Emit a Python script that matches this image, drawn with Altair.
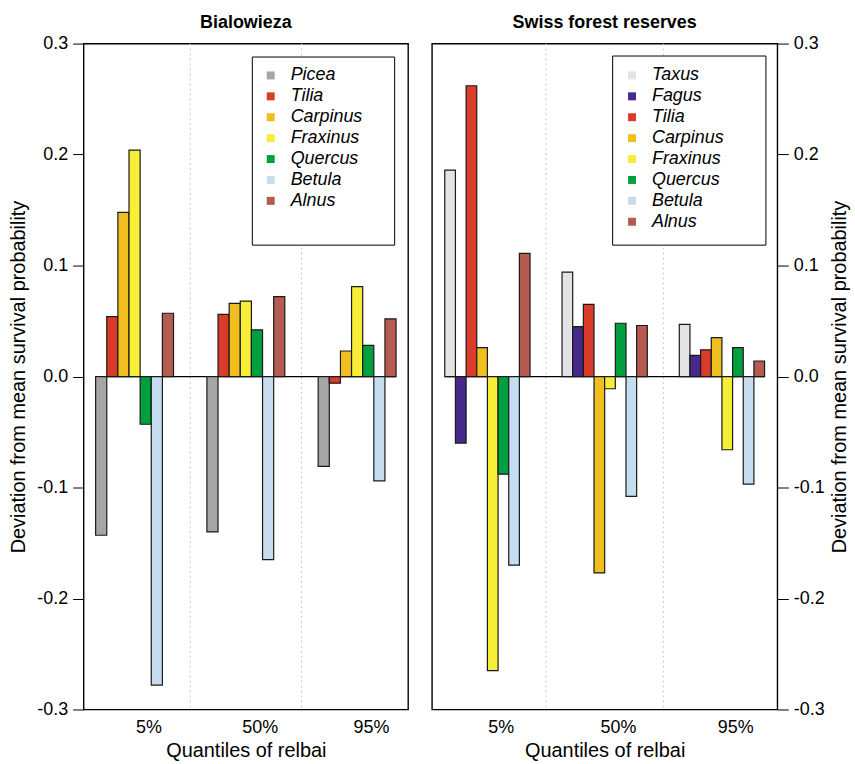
import altair as alt
import pandas as pd

# ---------------- data ----------------
groups = ["5%", "50%", "95%"]

bial_species = ["Picea", "Tilia", "Carpinus", "Fraxinus", "Quercus", "Betula", "Alnus"]
bial_q05 = [-0.143, 0.054, 0.148, 0.204, -0.043, -0.278, 0.057]
bial_q50 = [-0.140, 0.056, 0.066, 0.068, 0.042, -0.165, 0.072]
bial_q95 = [-0.081, -0.006, 0.023, 0.081, 0.028, -0.094, 0.052]

swiss_species = ["Taxus", "Fagus", "Tilia", "Carpinus", "Fraxinus", "Quercus", "Betula", "Alnus"]
swiss_q05 = [0.186, -0.060, 0.262, 0.026, -0.265, -0.088, -0.170, 0.111]
swiss_q50 = [0.094, 0.045, 0.065, -0.177, -0.011, 0.048, -0.108, 0.046]
swiss_q95 = [0.047, 0.019, 0.024, 0.035, -0.066, 0.026, -0.097, 0.014]

species_colors = {
    "Picea": "#A6A6A6",
    "Taxus": "#E3E3E3",
    "Fagus": "#47298A",
    "Tilia": "#DB3B2B",
    "Carpinus": "#F1BE1F",
    "Fraxinus": "#F6EE37",
    "Quercus": "#00A03E",
    "Betula": "#C5DDEE",
    "Alnus": "#B55B52",
}

y_ticks = [-0.3, -0.2, -0.1, 0.0, 0.1, 0.2, 0.3]
FONT = "Liberation Sans"


def spacer(n):
    # invisible legend title used only to give the legend frame its width / bottom room
    return "\u200b" + "\u00a0" * n + "\u200b"


def panel(title, species, series, orient, width, lx, ly, spacer_n, spacer_size, spacer_pad, pad):
    nsp = len(species)
    step = nsp + 3
    rows = []
    for g, (grp, vals) in enumerate(zip(groups, series)):
        for i, (sp, v) in enumerate(zip(species, vals)):
            rows.append({"group": grp, "species": sp, "value": v,
                         "x0": g * step + i, "x1": g * step + i + 1})
    df = pd.DataFrame(rows)
    total = df["x1"].max()
    ext = 0.04 * (total - df["x0"].min())
    domain = [df["x0"].min() - ext, total + ext]

    div_df = pd.DataFrame({"pos": [g * step + nsp + 1.5 for g in range(len(groups) - 1)]})
    zero_df = pd.DataFrame({"a": [df["x0"].min()], "b": [total], "y": [0.0]})
    label_pos = [g * step + (nsp + 2.5) / 2 for g in range(len(groups))]
    label_expr = "datum.value < {0} ? '{1}' : datum.value < {2} ? '{3}' : '{4}'".format(
        label_pos[0] + 1, groups[0], label_pos[1] + 1, groups[1], groups[2])

    xscale = alt.Scale(domain=domain, nice=False, zero=False)
    yscale = alt.Scale(domain=[-0.3, 0.3], nice=False)

    xaxis = alt.Axis(values=label_pos, labelExpr=label_expr, ticks=False, domain=False,
                     grid=False, labelFontSize=18, labelPadding=9, labelColor="black",
                     title="Quantiles of relbai", titleFontSize=20, titleFontWeight="normal",
                     titlePadding=4, titleColor="black", labelFont=FONT, titleFont=FONT)
    yaxis_kw = dict(orient=orient, values=y_ticks,
                    labelExpr="datum.value < 0 ? '-' + format(-datum.value, '.1f') : format(datum.value, '.1f')",
                    tickSize=11, tickColor="black", tickWidth=1, labelPadding=5, domain=False,
                    grid=False, labelFontSize=18, labelColor="black", labelFont=FONT,
                    title="Deviation from mean survival probability", titleFontSize=20,
                    titleFontWeight="normal", titleColor="black", titleFont=FONT,
                    titlePadding=8)
    if orient == "right":
        yaxis_kw.update(titleAngle=270, titleBaseline="top", titlePadding=5)
    yaxis = alt.Axis(**yaxis_kw)

    dividers = alt.Chart(div_df).mark_rule(color="#c8c8c8", strokeDash=[2, 3], strokeWidth=1).encode(
        x=alt.X("pos:Q", scale=xscale, axis=xaxis)
    )

    legend = alt.Legend(orient="none", legendX=lx, legendY=ly,
                        title=spacer(spacer_n), titleOrient="bottom", titleFontSize=spacer_size,
                        titlePadding=spacer_pad,
                        strokeColor="black", fillColor="white", padding=pad,
                        symbolType="square", symbolSize=64, symbolStrokeWidth=0,
                        symbolStrokeColor="transparent",
                        labelFontSize=18, labelFontStyle="italic", labelFont=FONT,
                        labelColor="black", labelOffset=11, rowPadding=3)

    bars = alt.Chart(df).mark_bar(stroke="#1a1a1a", strokeWidth=1.2).encode(
        x=alt.X("x0:Q", scale=xscale, axis=xaxis),
        x2="x1:Q",
        y=alt.Y("value:Q", scale=yscale, axis=yaxis),
        y2=alt.datum(0),
        color=alt.Color("species:N",
                        scale=alt.Scale(domain=species, range=[species_colors[s] for s in species]),
                        legend=legend),
    )

    zero = alt.Chart(zero_df).mark_rule(color="black", strokeWidth=1.2).encode(
        x=alt.X("a:Q", scale=xscale, axis=xaxis),
        x2="b:Q",
        y=alt.Y("y:Q", scale=yscale, axis=yaxis),
    )

    return alt.layer(dividers, zero, bars).properties(
        width=width,
        height=669,
        title=alt.TitleParams(title, fontSize=18, fontWeight="bold", font=FONT, color="black",
                              anchor="middle", frame="group", offset=3),
    )


left = panel("Bialowieza", bial_species, [bial_q05, bial_q50, bial_q95], "left", 326,
             169, 13, 21, 21, 4, 10)
right = panel("Swiss forest reserves", swiss_species, [swiss_q05, swiss_q50, swiss_q95], "right", 347,
              181, 12, 158, 3, 0, 11)

chart = alt.hconcat(left, right, spacing=22).resolve_scale(
    color="independent", x="independent", y="independent"
).resolve_legend(color="independent").configure(
    font=FONT,
    view=alt.ViewConfig(stroke="#000000", strokeWidth=1.4, strokeOpacity=1),
).properties(
    padding={"left": 8, "top": 11, "right": 5, "bottom": 3}
)

chart.save("out.html", embed_options={"renderer": "svg", "actions": False})
